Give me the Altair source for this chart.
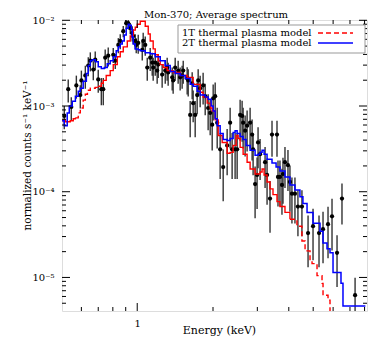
import altair as alt
import pandas as pd

# ---------------- data ----------------
# observed spectrum: energy (keV), normalized counts s^-1 keV^-1, relative 1-sigma error
data_E = [0.513, 0.532, 0.547, 0.573, 0.594, 0.600, 0.622, 0.639, 0.651, 0.669,
          0.681, 0.700, 0.720, 0.733, 0.746, 0.767, 0.803, 0.818, 0.841, 0.856,
          0.880, 0.904, 0.921, 0.938, 0.955, 0.964, 0.982, 0.991, 1.009, 1.047,
          1.056, 1.076, 1.096, 1.126, 1.147, 1.157, 1.179, 1.200, 1.212, 1.256,
          1.292, 1.315, 1.327, 1.377, 1.389, 1.415, 1.454, 1.481, 1.508, 1.523,
          1.579, 1.594, 1.623, 1.653, 1.668, 1.699, 1.730, 1.746, 1.778, 1.827,
          1.862, 1.913, 1.949, 1.985, 2.003, 2.040, 2.078, 2.135, 2.195, 2.276,
          2.339, 2.382, 2.448, 2.494, 2.563, 2.610, 2.634, 2.683, 2.732, 2.808,
          2.860, 2.886, 2.939, 2.993, 3.020, 3.076, 3.220, 3.279, 3.369, 3.431,
          3.591, 3.624, 3.690, 3.758, 3.793, 3.863, 3.970, 4.043, 4.117, 4.232,
          4.349, 4.511, 4.771, 4.993, 5.274, 5.471, 5.727, 5.940, 6.219, 6.507,
          7.335]
data_V = [7.67e-4, 1.57e-3, 9.74e-4, 1.74e-3, 1.34e-3, 1.99e-3, 2.27e-3, 2.96e-3, 3.38e-3, 2.66e-3,
          3.47e-3, 2.04e-3, 1.57e-3, 1.57e-3, 3.66e-3, 3.86e-3, 3.96e-3, 3.38e-3, 5.16e-3, 5.74e-3,
          7.47e-3, 9.24e-3, 9.24e-3, 8.09e-3, 7.09e-3, 6.55e-3, 5.74e-3, 5.16e-3, 5.44e-3, 4.52e-3,
          5.74e-3, 5.16e-3, 2.81e-3, 3.66e-3, 3.21e-3, 2.81e-3, 3.21e-3, 2.59e-3, 3.04e-3, 2.33e-3,
          2.59e-3, 2.81e-3, 2.46e-3, 2.16e-3, 1.99e-3, 2.81e-3, 2.59e-3, 2.16e-3, 2.27e-3, 2.59e-3,
          2.10e-3, 1.99e-3, 7.88e-4, 1.84e-3, 1.08e-3, 7.88e-4, 1.34e-3, 1.99e-3, 1.61e-3, 1.74e-3,
          1.30e-3, 9.48e-4, 8.31e-4, 6.05e-4, 1.23e-3, 1.30e-3, 6.38e-4, 3.12e-4, 1.94e-4, 3.47e-4,
          6.38e-4, 3.12e-4, 3.12e-4, 3.12e-4, 7.88e-4, 7.67e-4, 6.38e-4, 5.16e-4, 5.89e-4, 6.38e-4,
          4.64e-4, 3.12e-4, 1.23e-4, 1.57e-4, 3.76e-4, 2.74e-4, 2.21e-4, 1.57e-4, 8.31e-5, 4.64e-4,
          4.64e-4, 1.49e-4, 1.49e-4, 1.20e-4, 1.61e-4, 2.21e-4, 2.04e-4, 1.30e-4, 9.48e-5, 9.48e-5,
          6.72e-5, 6.72e-5, 3.29e-5, 3.96e-5, 3.29e-5, 3.66e-5, 4.18e-5, 5.16e-5, 1.94e-5, 8.31e-5,
          6.20e-6]
data_rel = [0.30, 0.30, 0.30, 0.30, 0.30, 0.30, 0.30, 0.25, 0.25, 0.25,
            0.25, 0.30, 0.35, 0.35, 0.25, 0.25, 0.20, 0.20, 0.20, 0.20,
            0.15, 0.15, 0.15, 0.15, 0.20, 0.20, 0.20, 0.20, 0.25, 0.25,
            0.25, 0.25, 0.30, 0.30, 0.30, 0.30, 0.30, 0.30, 0.30, 0.30,
            0.30, 0.30, 0.30, 0.30, 0.30, 0.30, 0.30, 0.30, 0.30, 0.30,
            0.35, 0.35, 0.45, 0.35, 0.40, 0.45, 0.40, 0.35, 0.40, 0.40,
            0.40, 0.45, 0.45, 0.50, 0.45, 0.45, 0.50, 0.55, 0.60, 0.55,
            0.50, 0.55, 0.55, 0.55, 0.50, 0.50, 0.50, 0.50, 0.50, 0.50,
            0.50, 0.50, 0.60, 0.60, 0.50, 0.50, 0.50, 0.55, 0.60, 0.45,
            0.45, 0.55, 0.55, 0.55, 0.55, 0.50, 0.50, 0.55, 0.55, 0.55,
            0.55, 0.55, 0.60, 0.60, 0.60, 0.60, 0.60, 0.60, 0.60, 0.50,
            0.60]

# 1T thermal plasma model (bin start energy, model value)
red_E = [0.503, 0.508, 0.518, 0.532, 0.542, 0.557, 0.568, 0.583, 0.594, 0.610,
         0.622, 0.634, 0.651, 0.681, 0.700, 0.720, 0.733, 0.753, 0.781, 0.803,
         0.833, 0.856, 0.880, 0.913, 0.938, 0.964, 0.982, 1.000, 1.028, 1.047,
         1.076, 1.106, 1.126, 1.157, 1.179, 1.212, 1.234, 1.268, 1.315, 1.389,
         1.481, 1.579, 1.668, 1.778, 1.827, 1.896, 1.949, 1.985, 2.040, 2.097,
         2.175, 2.276, 2.339, 2.404, 2.471, 2.517, 2.563, 2.634, 2.732, 2.808,
         2.939, 3.020, 3.076, 3.133, 3.191, 3.279, 3.369, 3.462, 3.591, 3.690,
         3.863, 4.043, 4.310, 4.511, 4.642, 4.858, 4.948, 5.179, 5.421, 5.471,
         5.727, 5.832]
red_V = [6.72e-4, 6.90e-4, 6.55e-4, 6.55e-4, 6.72e-4, 7.09e-4, 7.28e-4, 8.31e-4, 9.48e-4, 1.17e-3,
         1.37e-3, 1.53e-3, 1.61e-3, 1.65e-3, 1.70e-3, 1.84e-3, 1.99e-3, 2.27e-3, 2.59e-3, 3.04e-3,
         3.76e-3, 4.29e-3, 4.90e-3, 5.74e-3, 6.55e-3, 7.67e-3, 8.31e-3, 9.00e-3, 9.74e-3, 9.74e-3,
         8.53e-3, 6.91e-3, 5.74e-3, 4.64e-3, 3.96e-3, 3.38e-3, 3.04e-3, 2.81e-3, 2.59e-3, 2.46e-3,
         2.27e-3, 2.16e-3, 1.79e-3, 1.45e-3, 1.27e-3, 1.08e-3, 9.48e-4, 8.76e-4, 6.90e-4, 4.52e-4,
         3.76e-4, 2.81e-4, 2.88e-4, 3.47e-4, 4.52e-4, 4.18e-4, 3.29e-4, 2.74e-4, 2.21e-4, 1.84e-4,
         1.61e-4, 1.61e-4, 1.70e-4, 1.84e-4, 1.57e-4, 1.30e-4, 1.08e-4, 9.24e-5, 7.67e-5, 6.72e-5,
         5.74e-5, 4.77e-5, 3.96e-5, 2.66e-5, 2.04e-5, 1.57e-5, 1.45e-5, 1.05e-5, 8.53e-6, 6.20e-6,
         5.44e-6, 3.70e-6]

# 2T thermal plasma model (bin start energy, model value)
blue_E = [0.503, 0.513, 0.527, 0.537, 0.552, 0.568, 0.583, 0.594, 0.610, 0.628,
          0.639, 0.651, 0.663, 0.681, 0.700, 0.720, 0.740, 0.760, 0.781, 0.803,
          0.825, 0.841, 0.856, 0.872, 0.888, 0.904, 0.921, 0.930, 0.947, 0.955,
          0.964, 0.982, 1.009, 1.028, 1.076, 1.126, 1.179, 1.234, 1.292, 1.352,
          1.415, 1.481, 1.550, 1.623, 1.668, 1.730, 1.778, 1.862, 1.913, 1.967,
          2.003, 2.040, 2.078, 2.135, 2.195, 2.276, 2.339, 2.404, 2.448, 2.494,
          2.563, 2.634, 2.707, 2.808, 2.939, 3.020, 3.076, 3.133, 3.191, 3.279,
          3.431, 3.561, 3.690, 3.863, 4.043, 4.232, 4.429, 4.552, 4.727, 4.993,
          5.323, 5.471, 5.674, 5.832, 5.995, 6.448, 6.567, 8.06]
blue_V = [6.72e-4, 5.89e-4, 8.31e-4, 1.00e-3, 1.14e-3, 1.30e-3, 1.49e-3, 1.61e-3, 1.94e-3, 2.40e-3,
          2.96e-3, 3.38e-3, 3.47e-3, 3.29e-3, 2.88e-3, 2.74e-3, 2.81e-3, 3.12e-3, 3.38e-3, 3.76e-3,
          4.40e-3, 4.90e-3, 5.30e-3, 5.74e-3, 6.72e-3, 8.09e-3, 9.00e-3, 8.76e-3, 7.88e-3, 6.38e-3,
          5.30e-3, 4.64e-3, 4.52e-3, 4.40e-3, 4.18e-3, 4.07e-3, 3.76e-3, 3.38e-3, 2.96e-3, 2.53e-3,
          2.40e-3, 2.27e-3, 2.10e-3, 1.79e-3, 1.70e-3, 1.49e-3, 1.34e-3, 1.27e-3, 1.20e-3, 1.00e-3,
          8.76e-4, 7.09e-4, 5.89e-4, 4.77e-4, 4.07e-4, 3.96e-4, 4.18e-4, 4.90e-4, 5.16e-4, 4.77e-4,
          4.40e-4, 4.07e-4, 3.47e-4, 3.04e-4, 2.66e-4, 2.74e-4, 2.88e-4, 3.04e-4, 2.74e-4, 2.40e-4,
          2.16e-4, 1.94e-4, 1.74e-4, 1.49e-4, 1.20e-4, 1.05e-4, 8.76e-5, 7.28e-5, 5.74e-5, 4.29e-5,
          3.47e-5, 2.53e-5, 2.16e-5, 1.94e-5, 1.14e-5, 8.53e-6, 4.64e-6, 4.64e-6]

model_labels = ["1T thermal plasma model", "2T thermal plasma model"]
title_text = ["Mon-370; Average spectrum"]

y_major = [1e-5, 1e-4, 1e-3, 1e-2]
y_minor = [k * 10.0 ** d for d in (-6, -5, -4, -3) for k in range(2, 10)]
y_minor = [v for v in y_minor if 4.06e-6 <= v <= 1.008e-2]
x_major = [1.0]
x_minor = [0.6, 0.7, 0.8, 0.9, 2, 3, 4, 5, 6, 7, 8]

# ---------------- tables ----------------
pts = pd.DataFrame({"E": data_E, "V": data_V, "rel": data_rel})
pts["lo"] = pts["V"] * (1 - pts["rel"])
pts["hi"] = pts["V"] * (1 + pts["rel"])

red = pd.DataFrame({"E": red_E, "V": red_V})
segments = [("a", "solid", 0.0, 0.568), ("b", "dash", 0.568, 0.700),
            ("c", "solid", 0.700, 4.043), ("d", "dash", 4.043, 99.0)]
red_rows = []
for seg, style, lo, hi in segments:
    part = red[(red["E"] >= lo - 1e-9) & (red["E"] <= hi + 1e-9)].copy()
    part["seg"] = seg
    part["style"] = style
    red_rows.append(part)
red_df = pd.concat(red_rows, ignore_index=True)
red_df["order"] = range(len(red_df))

blue_df = pd.DataFrame({"E": blue_E, "V": blue_V})

W, H = 305, 291
FONT = "DejaVu Serif"
xscale = alt.Scale(type="log", domain=[0.5025, 8.18], nice=False)
yscale = alt.Scale(type="log", domain=[4.06e-6, 1.008e-2], nice=False)

x_axis = alt.Axis(values=x_major, labelExpr="datum.value == 1 ? '1' : ''",
                  title="Energy (keV)", grid=False, domain=False, ticks=False,
                  labelPadding=7, labelFont=FONT, labelFontSize=10, labelColor="black",
                  titleFont=FONT, titleFontSize=11, titleFontWeight="normal", titleColor="black",
                  titleX=157, titleY=19, titleAlign="center", titleBaseline="middle")
y_axis = alt.Axis(values=y_major,
                  labelExpr="datum.value < 5e-5 ? '10⁻⁵' : datum.value < 5e-4 ? '10⁻⁴' : datum.value < 5e-3 ? '10⁻³' : '10⁻²'",
                  title="normalized counts s⁻¹ keV⁻¹", grid=False, domain=False, ticks=False,
                  labelPadding=8, labelFont=FONT, labelFontSize=10, labelColor="black",
                  titleFont=FONT, titleFontSize=10.5, titleFontWeight="normal", titleColor="black",
                  titleX=-35, titleY=135, titleAngle=270, titleAlign="center", titleBaseline="middle")

X = alt.X("E:Q", scale=xscale, axis=x_axis)

errbars = alt.Chart(pts).mark_rule(color="#333333", strokeWidth=1.4, clip=True).encode(
    x=X,
    y=alt.Y("lo:Q", scale=yscale, axis=y_axis),
    y2="hi:Q",
)
points = alt.Chart(pts).mark_circle(size=18, color="black", opacity=1, clip=True).encode(
    x=X,
    y=alt.Y("V:Q", scale=yscale, axis=y_axis),
)
red_line = alt.Chart(red_df).mark_line(interpolate="step-after", color="#ff0000",
                                       strokeWidth=1.4, clip=True).encode(
    x=X,
    y=alt.Y("V:Q", scale=yscale, axis=y_axis),
    detail="seg:N",
    order="order:Q",
    strokeDash=alt.StrokeDash("style:N", scale=alt.Scale(domain=["solid", "dash"],
                                                        range=[[1, 0], [5, 3]]), legend=None),
)
blue_line = alt.Chart(blue_df).mark_line(interpolate="step-after", color="#0000ff",
                                         strokeWidth=1.5, clip=True).encode(
    x=X,
    y=alt.Y("V:Q", scale=yscale, axis=y_axis),
)

# inward ticks on all four sides
def yticks(vals, length):
    df = pd.DataFrame({"V": vals})
    left = alt.Chart(df).mark_rule(color="black", strokeWidth=1).encode(
        y=alt.Y("V:Q", scale=yscale, axis=y_axis), x=alt.value(0), x2=alt.value(length))
    right = alt.Chart(df).mark_rule(color="black", strokeWidth=1).encode(
        y=alt.Y("V:Q", scale=yscale, axis=y_axis), x=alt.value(W), x2=alt.value(W - length))
    return [left, right]

def xticks(vals, length):
    df = pd.DataFrame({"E": vals})
    bottom = alt.Chart(df).mark_rule(color="black", strokeWidth=1).encode(
        x=X, y=alt.value(H), y2=alt.value(H - length))
    top = alt.Chart(df).mark_rule(color="black", strokeWidth=1).encode(
        x=X, y=alt.value(0), y2=alt.value(length))
    return [bottom, top]

tick_layers = yticks(y_major, 8) + yticks(y_minor, 4) + xticks(x_major, 8) + xticks(x_minor, 4)

# chart title as a text mark just above the frame
title_mark = alt.Chart(pd.DataFrame({"t": title_text})).mark_text(
    align="center", baseline="alphabetic", font=FONT, fontSize=10, color="black").encode(
    x=alt.value(154), y=alt.value(-2), text="t:N")

# legend (manual, labels left of line samples)
leg_df = pd.DataFrame({"label": model_labels})
legend_box = alt.Chart(leg_df.head(1)).mark_rect(fill="white", stroke="#999999", strokeWidth=1).encode(
    x=alt.value(116), x2=alt.value(303), y=alt.value(5), y2=alt.value(33))
leg_text1 = alt.Chart(leg_df.iloc[[0]]).mark_text(align="left", baseline="middle", font=FONT,
                                                  fontSize=10, color="black").encode(
    x=alt.value(120), y=alt.value(13), text="label:N")
leg_text2 = alt.Chart(leg_df.iloc[[1]]).mark_text(align="left", baseline="middle", font=FONT,
                                                  fontSize=10, color="black").encode(
    x=alt.value(120), y=alt.value(23), text="label:N")
leg_line1 = alt.Chart(leg_df.iloc[[0]]).mark_rule(color="#ff0000", strokeWidth=1.4, strokeDash=[5, 3]).encode(
    x=alt.value(256), x2=alt.value(291), y=alt.value(13))
leg_line2 = alt.Chart(leg_df.iloc[[1]]).mark_rule(color="#0000ff", strokeWidth=1.5).encode(
    x=alt.value(256), x2=alt.value(291), y=alt.value(23))

chart = alt.layer(
    errbars, points, red_line, blue_line, *tick_layers,
    legend_box, leg_text1, leg_text2, leg_line1, leg_line2, title_mark,
).properties(
    width=W, height=H,
    autosize=alt.AutoSizeParams(type="none"),
    padding={"left": 54, "top": 12, "right": 7, "bottom": 25},
).configure_view(stroke="black", strokeWidth=1.2).configure(background="white")

chart.save("out.html", embed_options={"renderer": "svg", "actions": False})
